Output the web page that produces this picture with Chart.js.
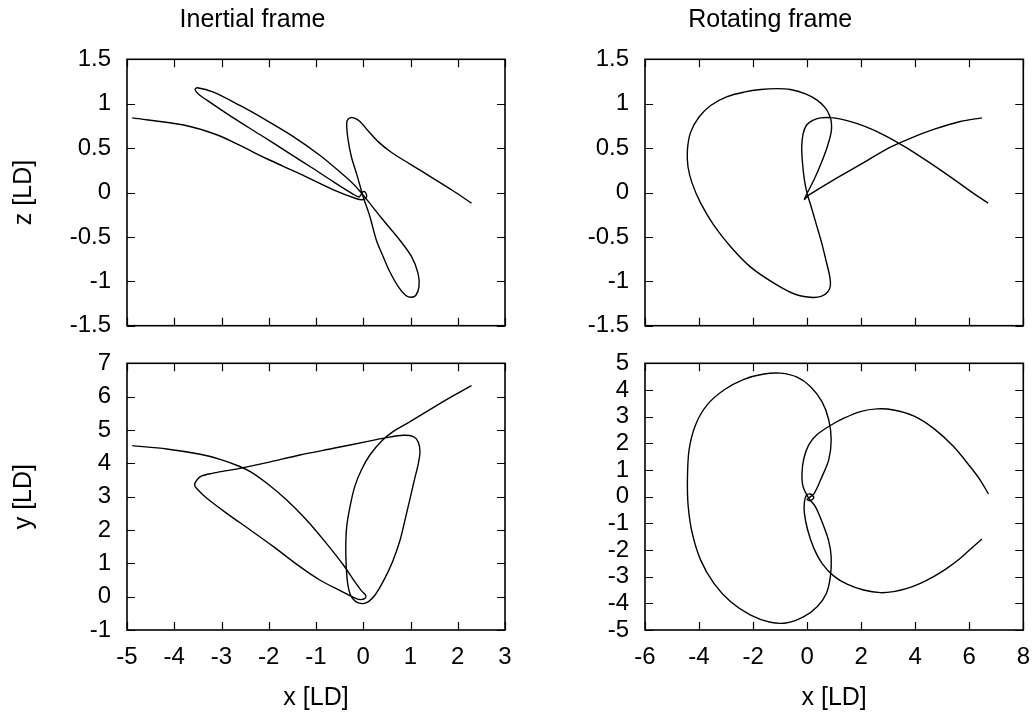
<!DOCTYPE html>
<html>
<head>
<meta charset="utf-8">
<title>Inertial and rotating frame</title>
<script src="https://cdn.jsdelivr.net/npm/chart.js@4.4.1/dist/chart.umd.min.js"></script>
<style>
  body { margin: 0; background: #fff; }
  #wrap { position: relative; width: 1034px; height: 713px; overflow: hidden; background: #fff; }
  canvas { position: absolute; }
</style>
</head>
<body>
<div id="wrap">
  <canvas id="tl" width="517" height="342" style="left:0px;top:0px"></canvas>
  <canvas id="tr" width="517" height="342" style="left:517px;top:0px"></canvas>
  <canvas id="bl" width="517" height="371" style="left:0px;top:342px"></canvas>
  <canvas id="br" width="517" height="371" style="left:517px;top:342px"></canvas>
</div>
<script>
// inertial frame, x-z
const inertialXzX = [-4.89, -3.80, -3.10, -2.61, -2.04, -1.34, -0.63, -0.14,
  0.00, 0.07, 0.05, 0.00, -0.04, -0.09,
  -0.21, -0.63, -1.06, -1.62, -2.18, -2.75, -3.31, -3.49, -3.56,
  -3.51, -3.17, -2.61, -2.04, -1.48, -0.92, -0.49, -0.18, 0.00,
  0.39, 0.78, 1.02, 1.16, 1.18, 1.11, 1.02,
  0.90, 0.74, 0.56, 0.42, 0.28, 0.14, 0.00, -0.14, -0.25, -0.32, -0.35, -0.34, -0.28, -0.20, -0.07, 0.11, 0.32, 0.60, 0.99, 1.48, 1.90, 2.29];
const inertialXzZ = [0.84, 0.76, 0.65, 0.53, 0.38, 0.21, 0.03, -0.07,
  -0.08, -0.05, 0.00, 0.01, -0.02, -0.05,
  -0.02, 0.12, 0.27, 0.46, 0.65, 0.84, 1.04, 1.11, 1.16,
  1.18, 1.13, 0.98, 0.81, 0.63, 0.42, 0.23, 0.08, -0.03,
  -0.29, -0.54, -0.72, -0.91, -1.06, -1.16, -1.18,
  -1.16, -1.06, -0.89, -0.72, -0.54, -0.27, -0.05, 0.21, 0.40, 0.59, 0.74, 0.81, 0.84, 0.84, 0.80, 0.69, 0.57, 0.45, 0.32, 0.16, 0.02, -0.12];

// inertial frame, x-y
const inertialXyX = [-4.89, -4.16, -3.45, -3.03, -2.64, -2.39, -2.04, -1.62, -1.20, -0.78, -0.42, -0.18, -0.04,
  0.05, 0.04, -0.06, -0.16,
  -0.49, -0.92, -1.34, -1.90, -2.39, -2.89, -3.31, -3.51, -3.57,
  -3.52, -3.42, -3.20, -2.89, -2.61, -2.04, -1.34, -0.63, 0.07, 0.49,
  0.85, 1.06, 1.16, 1.20, 1.16, 1.09, 1.00, 0.90, 0.78, 0.62,
  0.42, 0.25, 0.11, -0.01, -0.16, -0.27, -0.33, -0.36, -0.37, -0.35,
  -0.28, -0.18, -0.04, 0.14, 0.39, 0.63, 0.99, 1.48, 1.90, 2.29];
const inertialXyY = [4.53, 4.43, 4.27, 4.12, 3.92, 3.75, 3.40, 2.90, 2.30, 1.60, 0.95, 0.45, 0.18,
  0.05, -0.05, -0.09, -0.05,
  0.18, 0.50, 0.90, 1.50, 2.00, 2.50, 2.95, 3.22, 3.35,
  3.50, 3.62, 3.70, 3.78, 3.85, 4.02, 4.25, 4.45, 4.65, 4.77,
  4.84, 4.80, 4.65, 4.35, 3.95, 3.55, 3.00, 2.40, 1.70, 1.05,
  0.45, 0.05, -0.15, -0.21, -0.15, 0.05, 0.40, 0.90, 1.50, 2.10,
  2.70, 3.30, 3.80, 4.25, 4.67, 4.95, 5.25, 5.67, 6.02, 6.33];

// rotating frame, x-z
const rotatingXzX = [6.47, 5.67, 4.68, 3.82, 3.08, 2.22, 1.48, 0.86, 0.37, 0.06, -0.10,
  -0.02, 0.25, 0.52, 0.74, 0.89, 0.90, 0.84, 0.68, 0.37, -0.06,
  -0.62, -1.11, -1.72, -2.34, -2.96, -3.57, -4.00, -4.31, -4.43, -4.41,
  -4.25, -3.94, -3.45, -2.83, -2.09, -1.23, -0.49, 0.12, 0.52, 0.76,
  0.86, 0.84, 0.71, 0.54, 0.35, 0.15, 0.00, -0.10, -0.17, -0.20,
  -0.15, -0.02, 0.19, 0.49, 0.99, 1.48, 2.09, 2.83, 3.70, 4.56,
  5.42, 6.16, 6.70];
const rotatingXzZ = [0.84, 0.80, 0.71, 0.61, 0.51, 0.36, 0.23, 0.12, 0.03, -0.03, -0.08,
  -0.02, 0.14, 0.33, 0.51, 0.68, 0.78, 0.86, 0.95, 1.04, 1.11,
  1.16, 1.17, 1.16, 1.13, 1.08, 0.98, 0.85, 0.68, 0.48, 0.29,
  0.10, -0.12, -0.37, -0.61, -0.84, -1.02, -1.14, -1.18, -1.17, -1.12,
  -1.05, -0.95, -0.78, -0.57, -0.37, -0.16, -0.01, 0.14, 0.33, 0.51,
  0.66, 0.76, 0.81, 0.84, 0.84, 0.81, 0.75, 0.65, 0.50, 0.33,
  0.15, -0.01, -0.12];

// rotating frame, x-y
const rotatingXyX = [6.47, 6.03, 5.67, 5.17, 4.68, 4.19, 3.70, 3.20, 2.71, 2.09, 1.48, 0.99, 0.55, 0.25, 0.02, -0.10, -0.10,
  -0.02, 0.12, 0.25, 0.12, 0.00,
  0.25, 0.55, 0.80, 0.89, 0.80, 0.55, 0.12, -0.37, -0.99, -1.60,
  -2.34, -3.08, -3.70, -4.13, -4.37, -4.43, -4.40, -4.25, -3.94, -3.45,
  -2.83, -2.09, -1.36, -0.74, -0.12, 0.37, 0.71, 0.86, 0.89, 0.79,
  0.55, 0.31, 0.06,
  -0.15, -0.19, -0.12, 0.06, 0.35, 0.80, 1.36, 1.97, 2.59, 3.20, 3.94, 4.68, 5.42, 6.03, 6.40, 6.71];
const rotatingXyY = [-1.59, -1.98, -2.31, -2.69, -3.00, -3.25, -3.44, -3.56, -3.60, -3.50, -3.28, -2.98, -2.50, -1.94, -1.25, -0.63, -0.19,
  0.06, 0.10, -0.03, -0.15, -0.10,
  0.10, 0.75, 1.38, 2.13, 2.88, 3.56, 4.13, 4.48, 4.63, 4.60,
  4.40, 4.00, 3.44, 2.69, 1.75, 0.63, -0.38, -1.38, -2.38, -3.25,
  -3.94, -4.44, -4.71, -4.73, -4.50, -4.13, -3.63, -3.00, -2.25, -1.63,
  -0.94, -0.38, -0.06,
  0.38, 0.88, 1.44, 1.94, 2.31, 2.63, 2.94, 3.19, 3.29, 3.25, 3.03, 2.56, 1.88, 1.13, 0.63, 0.10];

// axis ranges [min, max, step]
const inertialXRange = [-5, 3, 1];
const rotatingXRange = [-6, 8, 2];
const zRange = [-1.5, 1.5, 0.5];
const inertialYRange = [-1, 7, 1];
const rotatingYRange = [-5, 5, 1];

const frameTitles = ["Inertial frame", "Rotating frame"];
const xLabel = "x [LD]";
const zLabel = "z [LD]";
const yLabel = "y [LD]";

Chart.defaults.font.family = "'Liberation Sans', Arial, Helvetica, sans-serif";
Chart.defaults.color = "#000";

function points(xs, ys) {
    return xs.map((x, i) => ({ x, y: ys[i] }));
}

// gnuplot style box with inward ticks on all four sides
const frame = {
    id: "frame",
    afterDatasetsDraw(chart) {
        const { ctx, chartArea: a, scales } = chart;
        const len = 8;
        ctx.save();
        ctx.strokeStyle = "#000";
        ctx.lineWidth = 1.2;
        ctx.beginPath();
        scales.x.ticks.forEach((t) => {
            const px = Math.round(scales.x.getPixelForValue(t.value)) + 0.5;
            ctx.moveTo(px, a.bottom);
            ctx.lineTo(px, a.bottom - len);
            ctx.moveTo(px, a.top);
            ctx.lineTo(px, a.top + len);
        });
        scales.y.ticks.forEach((t) => {
            const py = Math.round(scales.y.getPixelForValue(t.value)) + 0.5;
            ctx.moveTo(a.left, py);
            ctx.lineTo(a.left + len, py);
            ctx.moveTo(a.right, py);
            ctx.lineTo(a.right - len, py);
        });
        ctx.stroke();
        ctx.lineWidth = 1.6;
        ctx.strokeRect(a.left, a.top, a.right - a.left, a.bottom - a.top);
        ctx.restore();
    },
};

function fmt(v) {
    return String(Math.round(v * 10) / 10);
}

// labels may hang over the box, the layout padding already leaves room
function noOverhang(s) {
    s.paddingLeft = 0;
    s.paddingRight = 0;
    s.paddingTop = 0;
    s.paddingBottom = 0;
}

function makeChart(id, cfg) {
    const [xMin, xMax, xStep] = cfg.xRange;
    const [yMin, yMax, yStep] = cfg.yRange;
    return new Chart(document.getElementById(id), {
        type: "scatter",
        data: {
            datasets: [
                {
                    data: points(cfg.xs, cfg.ys),
                    showLine: true,
                    borderColor: "#000",
                    borderWidth: 1.4,
                    pointRadius: 0,
                    tension: 0.3,
                    fill: false,
                },
            ],
        },
        options: {
            responsive: false,
            animation: false,
            events: [],
            layout: { padding: cfg.padding },
            plugins: {
                legend: { display: false },
                tooltip: { enabled: false },
                title: {
                    display: !!cfg.title,
                    text: cfg.title,
                    font: { size: 25, weight: "normal" },
                    color: "#000",
                    padding: { top: 5.3, bottom: 24 },
                },
            },
            scales: {
                x: {
                    type: "linear",
                    min: xMin,
                    max: xMax,
                    grid: { display: false, drawTicks: false },
                    border: { display: false },
                    ticks: {
                        display: cfg.bottom,
                        stepSize: xStep,
                        font: { size: 24 },
                        color: "#000",
                        padding: 13,
                        maxRotation: 0,
                        autoSkip: false,
                        callback: fmt,
                    },
                    title: {
                        display: cfg.bottom,
                        text: xLabel,
                        font: { size: 25 },
                        color: "#000",
                        padding: { top: 0, bottom: 0 },
                    },
                    afterFit: (s) => {
                        s.height = cfg.bottom ? 83 : 0;
                        noOverhang(s);
                    },
                },
                y: {
                    type: "linear",
                    min: yMin,
                    max: yMax,
                    grid: { display: false, drawTicks: false },
                    border: { display: false },
                    ticks: {
                        stepSize: yStep,
                        font: { size: 24 },
                        color: "#000",
                        padding: 16,
                        autoSkip: false,
                        callback: fmt,
                    },
                    title: {
                        display: !!cfg.yTitle,
                        text: cfg.yTitle,
                        font: { size: 25 },
                        color: "#000",
                        padding: { top: 9.2, bottom: 0 },
                    },
                    afterFit: (s) => {
                        s.width = cfg.yWidth;
                        noOverhang(s);
                    },
                },
            },
        },
        plugins: [frame],
    });
}

makeChart("tl", {
    xs: inertialXzX, ys: inertialXzZ,
    xRange: inertialXRange, yRange: zRange,
    title: frameTitles[0], yTitle: zLabel, bottom: false,
    yWidth: 127, padding: { top: 0, left: 0, right: 12, bottom: 16.3 },
});
makeChart("tr", {
    xs: rotatingXzX, ys: rotatingXzZ,
    xRange: rotatingXRange, yRange: zRange,
    title: frameTitles[1], yTitle: "", bottom: false,
    yWidth: 128, padding: { top: 0, left: 0, right: 10.7, bottom: 16.3 },
});
makeChart("bl", {
    xs: inertialXyX, ys: inertialXyY,
    xRange: inertialXRange, yRange: inertialYRange,
    title: "", yTitle: yLabel, bottom: true,
    yWidth: 127, padding: { top: 21.3, left: 0, right: 12, bottom: 0 },
});
makeChart("br", {
    xs: rotatingXyX, ys: rotatingXyY,
    xRange: rotatingXRange, yRange: rotatingYRange,
    title: "", yTitle: "", bottom: true,
    yWidth: 128, padding: { top: 21.3, left: 0, right: 10.7, bottom: 0 },
});
</script>
</body>
</html>
